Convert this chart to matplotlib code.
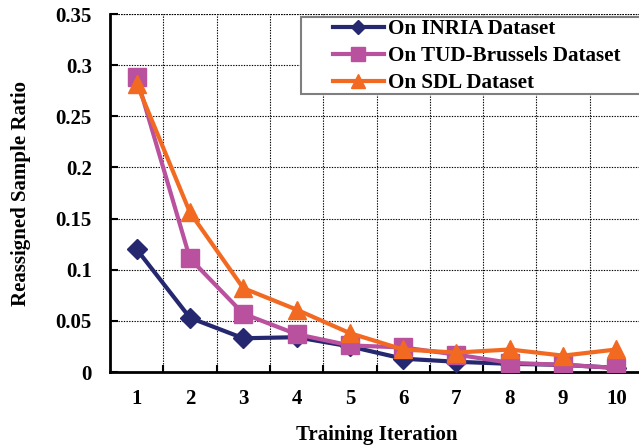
import matplotlib
matplotlib.use("Agg")
import matplotlib.pyplot as plt
from matplotlib.patches import Rectangle
import numpy as np

iterations = [1, 2, 3, 4, 5, 6, 7, 8, 9, 10]
inria = [0.120, 0.053, 0.033, 0.034, 0.025, 0.013, 0.010, 0.008, 0.007, 0.004]
tud = [0.288, 0.111, 0.057, 0.037, 0.026, 0.024, 0.017, 0.009, 0.007, 0.004]
sdl = [0.282, 0.156, 0.082, 0.061, 0.038, 0.022, 0.019, 0.022, 0.016, 0.022]
y_ticks = [0, 0.05, 0.1, 0.15, 0.2, 0.25, 0.3, 0.35]
y_tick_labels = ["0", "0.05", "0.1", "0.15", "0.2", "0.25", "0.3", "0.35"]
series_labels = ["On INRIA Dataset", "On TUD-Brussels Dataset", "On SDL Dataset"]

plt.rcParams["font.family"] = ["Liberation Serif", "DejaVu Serif"]
plt.rcParams["font.weight"] = "bold"

W, H = 639, 445
fig = plt.figure(figsize=(W / 100, H / 100), dpi=100)
ax = fig.add_axes([110 / W, 1 - 372 / H, 533 / W, 358 / H])

ax.plot(iterations, inria, color="#25276F", lw=3, marker="D", ms=10,
        label=series_labels[0], zorder=3)
ax.plot(iterations, tud, color="#BA519E", lw=3, marker="s", ms=12.5,
        label=series_labels[1], zorder=4)
ax.plot(iterations, sdl, color="#F26A21", lw=3, marker="^", ms=13,
        label=series_labels[2], zorder=5)

ax.set_xlim(0.5, 10.5)
ax.set_ylim(0, 0.35)
ax.set_yticks(y_ticks)
ax.set_yticklabels(y_tick_labels)
ax.set_xticks(iterations)
ax.set_xticklabels([str(i) for i in iterations])
ax.set_xticks(np.arange(1.5, 10.5, 1.0), minor=True)

ax.tick_params(axis="x", which="major", length=0, pad=12, labelsize=15)
ax.tick_params(axis="x", which="minor", direction="in", length=5, width=1.5)
ax.tick_params(axis="y", which="major", direction="in", length=6, width=1.5,
               pad=13, labelsize=15)

dots = (0, (1.2, 1.2))
ax.grid(True, which="major", axis="y", color="black", lw=0.8, ls=dots)
ax.grid(True, which="minor", axis="x", color="black", lw=0.8, ls=dots)
ax.set_axisbelow(True)

for side in ["top", "right"]:
    ax.spines[side].set_visible(False)
for side in ["left", "bottom"]:
    ax.spines[side].set_linewidth(2)
ax.axhline(0.35, color="black", lw=0.8, ls=dots, zorder=1)

ax.set_xlabel("Training Iteration", fontsize=15, fontweight="bold", va="center")
ax.xaxis.set_label_coords(0.5, -(435 - 372) / 358)
ax.set_ylabel("Reassigned Sample Ratio", fontsize=15, fontweight="bold", va="center")
ax.yaxis.set_label_coords(-(110 - 21) / 533, 0.5)

# legend box drawn as a plain rectangle, legend entries placed inside it
frame = Rectangle((301 / W, 1 - 94 / H), 360 / W, 77 / H, transform=fig.transFigure,
                  facecolor="white", edgecolor="#7f7f7f", lw=1.5, zorder=10)
fig.add_artist(frame)
leg = fig.legend(loc="upper left", bbox_to_anchor=(333 / W, 1 - 19.5 / H),
                 bbox_transform=fig.transFigure, frameon=False,
                 fontsize=15.2, handlelength=2.4, borderaxespad=0, borderpad=0,
                 labelspacing=0.32, handletextpad=0.2, markerscale=0.75)
leg.set_zorder(11)
for t in leg.get_texts():
    t.set_fontweight("bold")

fig.savefig("out.png", dpi=100)
